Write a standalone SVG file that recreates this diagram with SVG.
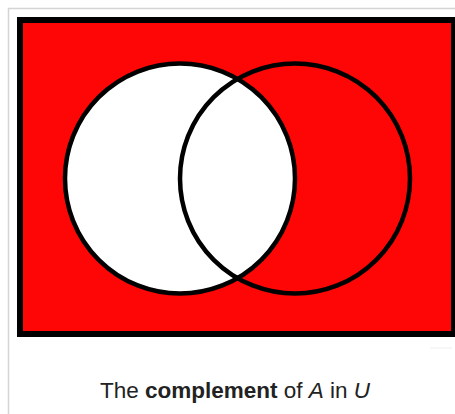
<svg xmlns="http://www.w3.org/2000/svg" width="455" height="414" viewBox="0 0 455 414">
<style>
.frame{fill:none;stroke:#d4d4d4;stroke-width:1.5}
.u{fill:#ff0606;stroke:#000;stroke-width:6}
.ring{fill:none;stroke:#000;stroke-width:4.5}
.cap{font-family:"Liberation Sans",Arial,sans-serif;font-size:22.5px;fill:#222}
</style>
<rect width="455" height="414" fill="#fff"/>
<path class="frame" d="M8.5,414 V8.5 H455"/>
<line x1="430" y1="348" x2="452" y2="348" stroke="#eeeeee" stroke-width="1"/>
<g id="U">
<rect x="19" y="19" width="436" height="316" fill="#999" opacity="0.5"/>
<rect class="u" x="20" y="20" width="434" height="314"/>
</g>
<g id="A">
<circle cx="180" cy="178.5" r="115" fill="#fff"/>
</g>
<g id="B">
<circle class="ring" cx="295" cy="178.5" r="115"/>
</g>
<g id="A-outline">
<circle class="ring" cx="180" cy="178.5" r="115"/>
</g>
<g id="connectors"/>
<text class="cap" x="235" y="398" text-anchor="middle">The <tspan font-weight="bold">complement</tspan> of <tspan font-style="italic">A</tspan> in <tspan font-style="italic">U</tspan></text>
</svg>
